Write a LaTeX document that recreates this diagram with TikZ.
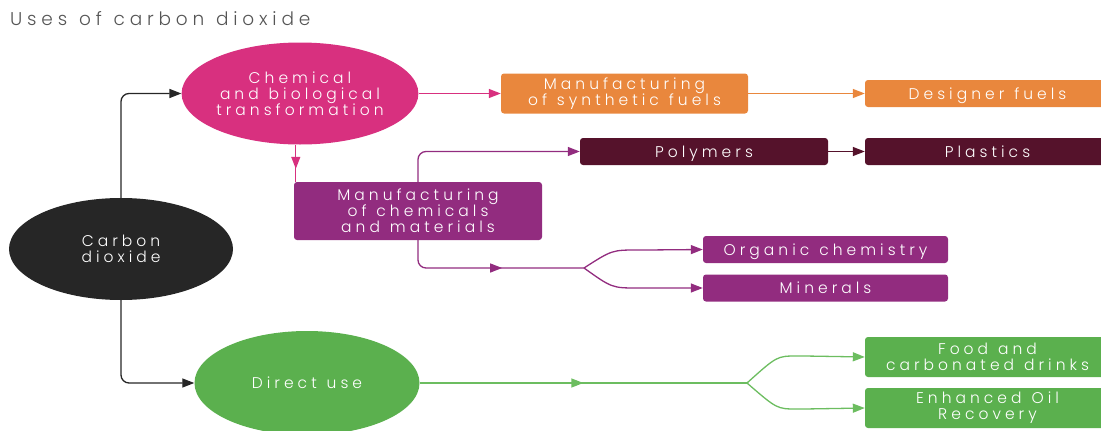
\documentclass[tikz,border=0pt]{standalone}
\usepackage{fontspec}
\setmainfont{Poppins}[UprightFont=* Light, LetterSpace=26, WordSpace=1.2]
\usepackage{tikz}
\usetikzlibrary{shapes.geometric}
\usetikzlibrary{arrows.meta}
\usetikzlibrary{decorations.markings}

\definecolor{inkc}{HTML}{262626}
\definecolor{titlec}{HTML}{555555}
\definecolor{pinkc}{HTML}{D8307F}
\definecolor{orangec}{HTML}{E9873D}
\definecolor{maroonc}{HTML}{55122B}
\definecolor{purplec}{HTML}{922C7F}
\definecolor{greenc}{HTML}{5BB04E}
\definecolor{greenl}{HTML}{6CBD60}

\begin{document}
\begin{tikzpicture}[x=1pt, y=-1pt,
    >={Triangle[length=12pt,width=9pt]},
    blob/.style={ellipse, inner sep=0pt, text=white, align=center, font=\fontsize{15.5}{16}\selectfont},
    box/.style={rectangle, rounded corners=3pt, inner sep=0pt, text=white, align=center, font=\fontsize{15.5}{16}\selectfont},
    link/.style={line width=1.3pt, rounded corners=8pt},
    midarrow/.style={postaction=decorate, decoration={markings, mark=at position #1 with {\arrow{>}}}}]
    \useasboundingbox (0,0) rectangle (1101,431);
    \clip (0,0) rectangle (1101,431);

    \node[anchor=base west, inner sep=0pt, text=titlec, font=\fontsize{18.5}{22}\selectfont] (title) at (10,25) {Uses of carbon dioxide};

    \node[blob, fill=inkc, minimum width=224, minimum height=102] (co2) at (121,249) {Carbon\\dioxide};
    \node[blob, fill=pinkc, minimum width=235, minimum height=102] (chem) at (300,93.5) {Chemical\\and biological\\transformation};
    \node[blob, fill=greenc, minimum width=225, minimum height=104] (direct) at (307,383) {Direct use};

    \node[box, fill=orangec, minimum width=247, minimum height=40] (synth) at (624.5,93.5) {Manufacturing\\of synthetic fuels};
    \node[box, fill=orangec, minimum width=245, minimum height=27, text depth=0pt] (designer) at (987.5,93.5) {Designer fuels};
    \node[box, fill=purplec, minimum width=248, minimum height=58] (manu) at (418,211) {Manufacturing\\of chemicals\\and materials};
    \node[box, fill=maroonc, minimum width=248, minimum height=27, text depth=0pt] (poly) at (704,151.5) {Polymers};
    \node[box, fill=purplec, minimum width=245, minimum height=27, text depth=0pt] (organic) at (825.5,249.5) {Organic chemistry};
    \node[box, fill=purplec, minimum width=245, minimum height=27] (minerals) at (825.5,288) {Minerals};
    \foreach \nm/\yy/\hh/\col/\txt in {plastics/151.5/27/maroonc/Plastics, food/357/40/greenc/Food and\\carbonated drinks, eor/408/40/greenc/Enhanced Oil\\Recovery} {
        \node[box, fill=\col, minimum width=245, minimum height=\hh] (\nm) at (987.5,\yy) {\txt};
    }

    \coordinate (msplit) at (584,268);
    \coordinate (gsplit) at (747,383);

    \draw[link, color=inkc, ->] (co2.north) |- (chem.west);
    \draw[link, color=inkc, ->] (co2.south) |- (direct.west);

    \draw[link, color=pinkc, ->] (chem.east) -- (synth.west);
    \draw[link, color=pinkc, midarrow=0.65] ([xshift=2]chem.south -| manu.west) -- ([xshift=2]manu.north west);
    \draw[link, color=orangec, ->] (synth) -- (designer);

    \draw[link, color=purplec, ->] (manu.north) |- (poly.west);
    \draw[link, color=maroonc, ->] (poly) -- (plastics);
    \draw[link, color=purplec, midarrow=0.57] (manu.south) |- (msplit);
    \draw[link, color=purplec, ->] (msplit) .. controls (612,250) .. (646,250) -- (organic.west);
    \draw[link, color=purplec, ->] (msplit) .. controls (612,288) .. (646,288) -- (minerals.west);

    \draw[link, color=greenl, midarrow=0.5] (direct.east) -- (gsplit);
    \draw[link, color=greenl, ->] (gsplit) .. controls (777,356) .. (805,356) -- (food.west);
    \draw[link, color=greenl, ->] (gsplit) .. controls (777,409) .. (805,409) -- (eor.west);
\end{tikzpicture}
\end{document}
